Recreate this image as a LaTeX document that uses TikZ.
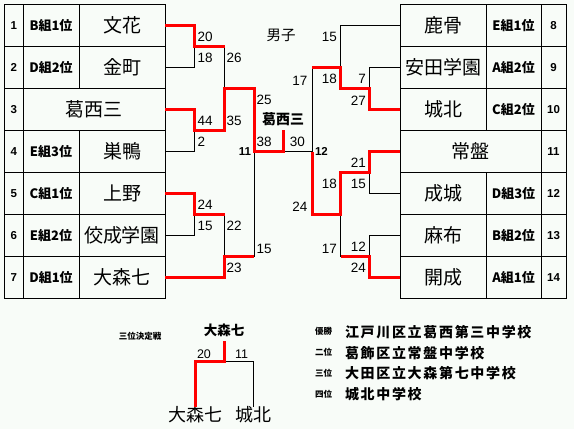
\documentclass[tikz,border=0pt]{standalone}
\usepackage{fontspec}
\setmainfont{Noto Sans CJK JP}
\newfontfamily\numfont{Liberation Sans}
\usetikzlibrary{positioning}
\definecolor{PaperBg}{RGB}{248,252,248}
\definecolor{WinRed}{RGB}{255,0,0}

\begin{document}
\begin{tikzpicture}[
    x=1pt, y=-1pt,
    every node/.style={inner sep=0pt, outer sep=0pt},
    cell/.style={draw, line width=1pt, minimum height=42pt},
    numcell/.style={cell, minimum width=18.5pt,
        font=\numfont\bfseries\fontsize{11.5}{12}\selectfont},
    rnumcell/.style={numcell, minimum width=25pt},
    grpcell/.style={cell, minimum width=56pt,
        font=\bfseries\fontsize{13}{13}\selectfont},
    rgrpcell/.style={grpcell, minimum width=55pt},
    teamcell/.style={cell, minimum width=86pt,
        font=\fontsize{19}{19}\selectfont},
    widecell/.style={teamcell, minimum width=142pt},
    lscore/.style={anchor=west, font=\numfont\fontsize{13.5}{14}\selectfont},
    rscore/.style={anchor=east, font=\numfont\fontsize{13.5}{14}\selectfont},
    matchno/.style={font=\numfont\bfseries\fontsize{11.5}{12}\selectfont},
    winner/.style={font=\bfseries\fontsize{14}{14}\selectfont},
    tag/.style={font=\bfseries\fontsize{8.5}{9}\selectfont},
    result/.style={anchor=west,
        font=\bfseries\fontsize{14}{14}\selectfont\addfontfeature{LetterSpace=12}},
    win/.style={WinRed, line width=3pt},
    lose/.style={black, line width=1pt},
]

% fondo
\fill[PaperBg] (0,0) rectangle (574,429);

% tabla izquierda
\node[numcell] (n1) at (13.75,25.5) {1};
\node[grpcell, right=0pt of n1] (g1) {B組1位};
\node[teamcell, right=0pt of g1] (t1) {文花};
\node[numcell, below=0pt of n1] (n2) {2};
\node[grpcell, right=0pt of n2] (g2) {D組2位};
\node[teamcell, right=0pt of g2] (t2) {金町};
\node[numcell, below=0pt of n2] (n3) {3};
\node[widecell, right=0pt of n3] (t3) {葛西三};
\node[numcell, below=0pt of n3] (n4) {4};
\node[grpcell, right=0pt of n4] (g4) {E組3位};
\node[teamcell, right=0pt of g4] (t4) {巣鴨};
\node[numcell, below=0pt of n4] (n5) {5};
\node[grpcell, right=0pt of n5] (g5) {C組1位};
\node[teamcell, right=0pt of g5] (t5) {上野};
\node[numcell, below=0pt of n5] (n6) {6};
\node[grpcell, right=0pt of n6] (g6) {E組2位};
\node[teamcell, right=0pt of g6] (t6) {佼成学園};
\node[numcell, below=0pt of n6] (n7) {7};
\node[grpcell, right=0pt of n7] (g7) {D組1位};
\node[teamcell, right=0pt of g7] (t7) {大森七};

% tabla derecha
\node[teamcell] (t8) at (443,25.5) {鹿骨};
\node[rgrpcell, right=0pt of t8] (g8) {E組1位};
\node[rnumcell, right=0pt of g8] (n8) {8};
\node[teamcell, below=0pt of t8] (t9) {安田学園};
\node[rgrpcell, right=0pt of t9] (g9) {A組2位};
\node[rnumcell, right=0pt of g9] (n9) {9};
\node[teamcell, below=0pt of t9] (t10) {城北};
\node[rgrpcell, right=0pt of t10] (g10) {C組2位};
\node[rnumcell, right=0pt of g10] (n10) {10};
\node[widecell, minimum width=141pt] (t11) at (470.5,151.5) {常盤};
\node[rnumcell, right=0pt of t11] (n11) {11};
\node[teamcell] (t12) at (443,193.5) {成城};
\node[rgrpcell, right=0pt of t12] (g12) {D組3位};
\node[rnumcell, right=0pt of g12] (n12) {12};
\node[teamcell, below=0pt of t12] (t13) {麻布};
\node[rgrpcell, right=0pt of t13] (g13) {B組2位};
\node[rnumcell, right=0pt of g13] (n13) {13};
\node[teamcell, below=0pt of t13] (t14) {開成};
\node[rgrpcell, right=0pt of t14] (g14) {A組1位};
\node[rnumcell, right=0pt of g14] (n14) {14};

% cruces
\coordinate (j1) at (194.5,46.5);
\coordinate (j2) at (194.5,130.5);
\coordinate (j3) at (194.5,214.5);
\coordinate (j4) at (224.5,88.5);
\coordinate (j5) at (224.5,256.5);
\coordinate (j6) at (254,151.5);
\coordinate (fin) at (283,151.5);
\coordinate (champ) at (283,130);
\coordinate (j7) at (312,151.5);
\coordinate (j8) at (340.5,67.5);
\coordinate (j9) at (369.5,88.5);
\coordinate (j10) at (369.5,172.5);
\coordinate (j11) at (369.5,256.5);
\coordinate (j12) at (340.5,214.5);

% perdedores
\draw[lose] (t2.east) -| (j1);
\draw[lose] (j1 -| j4) -- (j4);
\draw[lose] (t4.east) -| (j2);
\draw[lose] (t6.east) -| (j3);
\draw[lose] (j3 -| j5) -- (j5);
\draw[lose] (j5 -| j6) -- (j6);
\draw[lose] (t8.west) -| (j8);
\draw[lose] (t9.west) -| (j9);
\draw[lose] (j8 -| j7) -- (j7);
\draw[lose] (fin) -- (j7);
\draw[lose] (t12.west) -| (j10);
\draw[lose] (t13.west) -| (j11);
\draw[lose] (j11 -| j12) -- (j12);

% ganadores
\draw[win] (t1.east) -| (j1) -- (j1 -| j4);
\draw[win] (t3.east) -| (j2) -- (j2 -| j4) -- (j4) -- (j4 -| j6) -- (j6) -- (fin) -- (champ);
\draw[win] (t5.east) -| (j3) -- (j3 -| j5);
\draw[win] (t7.east) -| (j5) -- (j5 -| j6);
\draw[win] (t10.west) -| (j9) -- (j9 -| j8) -- (j8) -- (j8 -| j7);
\draw[win] (t11.west) -| (j10) -- (j10 -| j12) -- (j12) -- (j12 -| j7) -- (j7);
\draw[win] (t14.west) -| (j11) -- (j11 -| j12);

% marcadores izquierda
\node[lscore] (s1) at (197.5,37) {20};
\node[lscore] (s2) at (197.5,58) {18};
\node[lscore] (s3) at (226.5,58) {26};
\node[lscore] (s4) at (197.5,121) {44};
\node[lscore] (s5) at (226.5,121) {35};
\node[lscore] (s6) at (197.5,142) {2};
\node[lscore] (s7) at (256.5,100) {25};
\node[lscore] (s8) at (256.5,142) {38};
\node[lscore] (s9) at (197.5,205) {24};
\node[lscore] (s10) at (197.5,226) {15};
\node[lscore] (s11) at (226.5,226) {22};
\node[lscore] (s12) at (226.5,268) {23};
\node[lscore] (s13) at (256.5,249) {15};

% marcadores derecha
\node[rscore] (s14) at (337,37) {15};
\node[rscore] (s15) at (307.5,81) {17};
\node[rscore] (s16) at (337,79) {18};
\node[rscore] (s17) at (366,79) {7};
\node[rscore] (s18) at (366,100.5) {27};
\node[rscore] (s19) at (366,163) {21};
\node[rscore] (s20) at (337,184) {18};
\node[rscore] (s21) at (366,184) {15};
\node[rscore] (s22) at (307.5,207) {24};
\node[rscore] (s23) at (337,249) {17};
\node[rscore] (s24) at (366,247) {12};
\node[rscore] (s25) at (366,268) {24};

% final
\node[rscore] (s26) at (305,142) {30};
\node[matchno, anchor=east] (m11) at (251,151.5) {11};
\node[matchno, anchor=west] (m12) at (315,151.5) {12};
\node[winner] (champname) at (283,119) {葛西三};
\node[font=\fontsize{14.5}{15}\selectfont] (title) at (281,35) {男子};

% tercer puesto
\node[tag] (third) at (140,336) {三位決定戦};
\node[winner, font=\bfseries\fontsize{13.5}{14}\selectfont] (thirdwin) at (224,330) {大森七};
\node[font=\fontsize{18}{18}\selectfont] (b1) at (195,415) {大森七};
\node[font=\fontsize{18}{18}\selectfont] (b2) at (253.3,415) {城北};
\coordinate (bs) at (224.3,341);
\coordinate (bj) at (224.3,361.5);
\draw[lose] (bj) -| (b2.north);
\draw[win] (bs) -- (bj) -| (b1.north);
\node[lscore, anchor=center, font=\numfont\fontsize{12.5}{13}\selectfont] (bs1) at (204,354.5) {20};
\node[lscore, anchor=center, font=\numfont\fontsize{12.5}{13}\selectfont] (bs2) at (241.5,354.5) {11};

% resultados
\node[tag] (p1) at (323.5,331.7) {優勝};
\node[result] (r1) at (345,331.7) {江戸川区立葛西第三中学校};
\node[tag] (p2) at (323.5,352.7) {二位};
\node[result] (r2) at (345,352.7) {葛飾区立常盤中学校};
\node[tag] (p3) at (323.5,373.3) {三位};
\node[result] (r3) at (345,373.3) {大田区立大森第七中学校};
\node[tag] (p4) at (323.5,394) {四位};
\node[result] (r4) at (345,394) {城北中学校};

\end{tikzpicture}
\end{document}
